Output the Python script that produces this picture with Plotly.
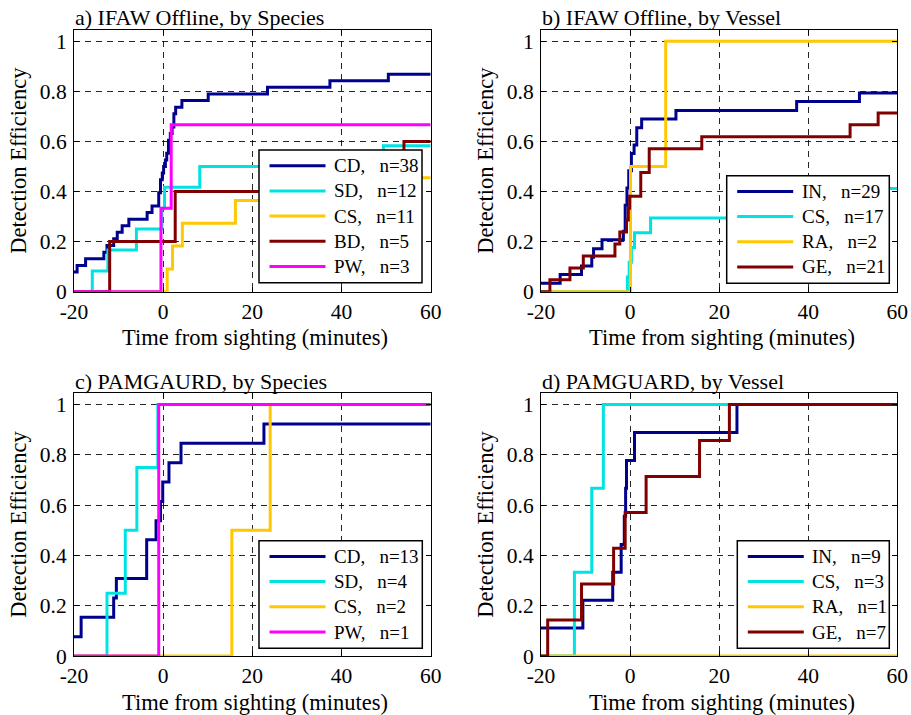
import plotly.graph_objects as go

# ---------------- data ----------------
# a) IFAW Offline, by Species
a_CD_t = [-20, -19.3, -17.4, -13.3, -12.6, -11.1, -10.3, -9.2, -7.7, -3.6, -2.5, -1.0, -0.6, -0.2, 0.1, 0.5, 0.8, 1.2, 1.6, 2.0, 2.4, 2.8, 4.2, 10.1, 23.4, 37.4, 50.5, 60]
a_CD_v = [0.079, 0.105, 0.132, 0.158, 0.184, 0.211, 0.237, 0.263, 0.289, 0.316, 0.342, 0.395, 0.447, 0.474, 0.5, 0.526, 0.553, 0.605, 0.632, 0.658, 0.711, 0.737, 0.763, 0.789, 0.816, 0.842, 0.868, 0.868]
a_SD_t = [-20, -15.9, -12.4, -6.0, -0.3, 0.3, 8.2, 49.4, 60]
a_SD_v = [0, 0.083, 0.167, 0.25, 0.333, 0.417, 0.5, 0.583, 0.583]
a_CS_t = [-20, 0.9, 2.1, 4.3, 16.2, 42.0, 60]
a_CS_v = [0, 0.091, 0.182, 0.273, 0.364, 0.455, 0.455]
a_BD_t = [-20, -12.0, 2.7, 54.0, 60]
a_BD_v = [0, 0.2, 0.4, 0.6, 0.6]
a_PW_t = [-20, -0.5, 1.8, 60]
a_PW_v = [0, 0.333, 0.667, 0.667]

# b) IFAW Offline, by Vessel
b_IN_t = [-20, -15.7, -10.9, -8.6, -8.2, -6.3, -1.5, -1.1, -0.7, -0.3, 0.3, 0.9, 1.5, 2.6, 10.3, 37.4, 51.5, 60]
b_IN_v = [0.034, 0.069, 0.103, 0.138, 0.172, 0.207, 0.241, 0.345, 0.414, 0.483, 0.552, 0.586, 0.655, 0.69, 0.724, 0.759, 0.793, 0.793]
b_CS_t = [-20, -0.6, -0.2, 0.3, 1.0, 4.6, 35.0, 50.0, 60]
b_CS_v = [0, 0.059, 0.118, 0.176, 0.235, 0.294, 0.353, 0.412, 0.412]
b_RA_t = [-20, 0.1, 8.0, 60]
b_RA_v = [0, 0.5, 1.0, 1.0]
b_GE_t = [-20, -18.0, -13.5, -10.5, -3.4, -2.3, -0.8, -0.4, -0.1, 2.4, 4.3, 16.1, 49.4, 55.7, 60]
b_GE_v = [0, 0.048, 0.095, 0.143, 0.19, 0.238, 0.286, 0.333, 0.381, 0.476, 0.571, 0.619, 0.667, 0.714, 0.714]

# c) PAMGAURD, by Species
c_CD_t = [-20, -18.4, -11.1, -10.5, -3.7, -1.6, -0.6, -0.1, 1.3, 4.0, 22.6, 60]
c_CD_v = [0.077, 0.154, 0.231, 0.308, 0.462, 0.538, 0.615, 0.692, 0.769, 0.846, 0.923, 0.923]
c_SD_t = [-20, -12.6, -8.5, -5.9, -1.2, 60]
c_SD_v = [0, 0.25, 0.5, 0.75, 1.0, 1.0]
c_CS_t = [-20, 15.4, 24.0, 60]
c_CS_v = [0, 0.5, 1.0, 1.0]
c_PW_t = [-20, -1.0, 60]
c_PW_v = [0, 1.0, 1.0]

# d) PAMGUARD, by Vessel
d_IN_t = [-20, -10.6, -3.9, -2.0, -1.3, -1.0, -0.8, 1.0, 24.0, 60]
d_IN_v = [0.111, 0.222, 0.333, 0.444, 0.556, 0.667, 0.778, 0.889, 1.0, 1.0]
d_CS_t = [-20, -12.5, -8.6, -6.0, 60]
d_CS_v = [0, 0.333, 0.667, 1.0, 1.0]
d_RA_t = [-20, 60]
d_RA_v = [0, 0]
d_GE_t = [-20, -18.5, -10.9, -3.7, -1.1, 3.6, 15.6, 22.3, 60]
d_GE_v = [0, 0.143, 0.286, 0.429, 0.571, 0.714, 0.857, 1.0, 1.0]

titles = ["a) IFAW Offline, by Species", "b) IFAW Offline, by Vessel",
          "c) PAMGAURD, by Species", "d) PAMGUARD, by Vessel"]
x_label = "Time from sighting (minutes)"
y_label = "Detection Efficiency"
x_tickvals = [-20, 0, 20, 40, 60]
x_ticktext = ["-20", "0", "20", "40", "60"]
y_tickvals = [0, 0.2, 0.4, 0.6, 0.8, 1]
y_ticktext = ["0", "0.2", "0.4", "0.6", "0.8", "1"]

C_BLUE = "#00008F"
C_CYAN = "#00E3E3"
C_YEL = "#FFC800"
C_RED = "#800000"
C_MAG = "#FF00FF"

panels = [
    [("CD", 38, a_CD_t, a_CD_v, C_BLUE), ("SD", 12, a_SD_t, a_SD_v, C_CYAN),
     ("CS", 11, a_CS_t, a_CS_v, C_YEL), ("BD", 5, a_BD_t, a_BD_v, C_RED),
     ("PW", 3, a_PW_t, a_PW_v, C_MAG)],
    [("IN", 29, b_IN_t, b_IN_v, C_BLUE), ("CS", 17, b_CS_t, b_CS_v, C_CYAN),
     ("RA", 2, b_RA_t, b_RA_v, C_YEL), ("GE", 21, b_GE_t, b_GE_v, C_RED)],
    [("CD", 13, c_CD_t, c_CD_v, C_BLUE), ("SD", 4, c_SD_t, c_SD_v, C_CYAN),
     ("CS", 2, c_CS_t, c_CS_v, C_YEL), ("PW", 1, c_PW_t, c_PW_v, C_MAG)],
    [("IN", 9, d_IN_t, d_IN_v, C_BLUE), ("CS", 3, d_CS_t, d_CS_v, C_CYAN),
     ("RA", 1, d_RA_t, d_RA_v, C_YEL), ("GE", 7, d_GE_t, d_GE_v, C_RED)],
]

# ---------------- layout geometry (pixels) ----------------
W, H = 911, 715
FONT = "Liberation Serif, Times New Roman, serif"
TICK_SIZE = 21.5
LABEL_SIZE = 22.5
TITLE_SIZE = 22
LEG_SIZE = 19
# axes boxes: (left, right, top, bottom) in px
boxes = [(74, 430.7, 30, 291.7), (541, 897.3, 30, 291.7),
         (74, 430.7, 393.3, 656), (541, 897.3, 393.3, 656)]
# legend boxes: (left, top, right)
leg_boxes = [(259, 150, 422), (726.7, 175.7, 889.3), (259, 540.7, 422.3), (737.3, 540.7, 889.3)]

def px(x):
    return x / W

def py(y):
    return 1 - y / H

fig = go.Figure()
shapes = []
annotations = []
layout_axes = {}

for i, series in enumerate(panels):
    k = "" if i == 0 else str(i + 1)
    xa, ya = "x" + k, "y" + k
    for name, n, t, v, col in series:
        fig.add_trace(go.Scatter(x=t, y=v, mode="lines", line=dict(color=col, width=3, shape="hv"),
                                 name=f"{name}, n={n}", showlegend=False, xaxis=xa, yaxis=ya,
                                 hoverinfo="skip"))
    l, r, tp, bt = boxes[i]
    common = dict(showline=True, linecolor="black", linewidth=1, mirror="allticks",
                  ticks="inside", ticklen=5, tickcolor="black", tickwidth=1,
                  showgrid=True, gridcolor="rgba(0,0,0,0.85)", gridwidth=1, griddash="6px,5px",
                  zeroline=False, automargin=False,
                  tickfont=dict(family=FONT, size=TICK_SIZE, color="black"))
    layout_axes["xaxis" + k] = dict(domain=[px(l), px(r)], range=[-20, 60], anchor=ya,
                                    tickmode="array", tickvals=x_tickvals, ticktext=x_ticktext,
                                    ticklabelstandoff=0, **common)
    layout_axes["yaxis" + k] = dict(domain=[py(bt), py(tp)], range=[0, 1.045], anchor=xa,
                                    tickmode="array", tickvals=y_tickvals, ticktext=y_ticktext,
                                    ticklabelstandoff=2, **common)
    # panel title
    annotations.append(dict(text=titles[i], xref="paper", yref="paper", x=px(l - 1), y=py(tp - 12),
                            xanchor="left", yanchor="middle", showarrow=False,
                            font=dict(family=FONT, size=TITLE_SIZE, color="black")))
    # axis titles
    annotations.append(dict(text=x_label, xref="paper", yref="paper", x=px((l + r) / 2 + 3), y=py(bt + 46),
                            xanchor="center", yanchor="middle", showarrow=False,
                            font=dict(family=FONT, size=LABEL_SIZE, color="black")))
    annotations.append(dict(text=y_label, xref="paper", yref="paper", x=px(l - 55), y=py((tp + bt) / 2),
                            xanchor="center", yanchor="middle", showarrow=False, textangle=-90,
                            font=dict(family=FONT, size=LABEL_SIZE, color="black")))
    # custom legend
    lx0, ly0, lx1 = leg_boxes[i]
    nrow = len(series)
    ly1 = ly0 + 32 + (nrow - 1) * 25.2
    shapes.append(dict(type="rect", xref="paper", yref="paper", x0=px(lx0), x1=px(lx1),
                       y0=py(ly1), y1=py(ly0), fillcolor="white",
                       line=dict(color="black", width=1.5), layer="above"))
    for j, (name, n, t, v, col) in enumerate(series):
        ry = ly0 + 15.7 + j * 25.2
        shapes.append(dict(type="line", xref="paper", yref="paper", x0=px(lx0 + 10.5), x1=px(lx0 + 66.5),
                           y0=py(ry), y1=py(ry), line=dict(color=col, width=3), layer="above"))
        annotations.append(dict(text=f"{name},\u00a0\u00a0\u00a0n={n}", xref="paper", yref="paper",
                                x=px(lx0 + 73), y=py(ry), xanchor="left", yanchor="middle",
                                showarrow=False, font=dict(family=FONT, size=LEG_SIZE, color="black")))

fig.update_layout(width=W, height=H, margin=dict(l=0, r=0, t=0, b=0, autoexpand=False),
                  paper_bgcolor="white", plot_bgcolor="white",
                  shapes=shapes, annotations=annotations, **layout_axes)

fig.write_html("out.html")
